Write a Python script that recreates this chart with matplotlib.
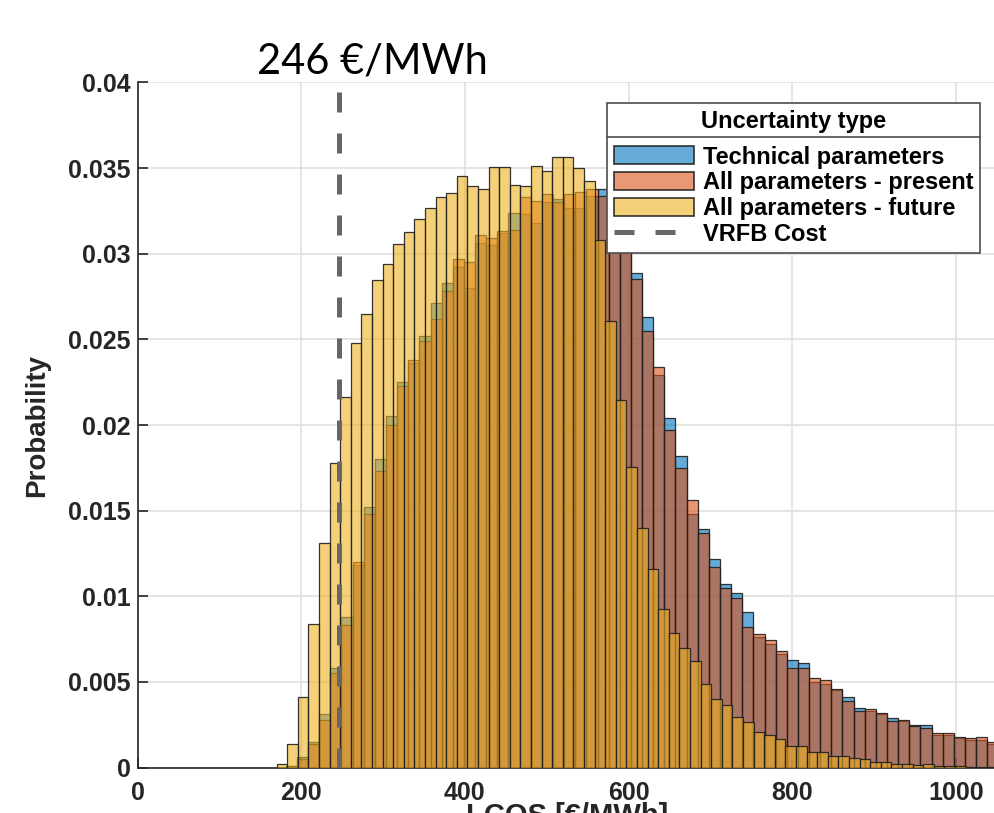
import numpy as np
import matplotlib
matplotlib.use('Agg')
import matplotlib.pyplot as plt
from matplotlib.patches import Patch
from matplotlib.lines import Line2D

# bins (LCOS, EUR/MWh)
future_start, future_width = 170.0, 12.95
present_start, present_width = 181.2, 13.6

# probability per bin
future_probs = [0.00023, 0.00135, 0.0041, 0.0084, 0.0131, 0.01776, 0.02166, 0.0248, 0.0265, 0.02846,
                0.02942, 0.03058, 0.03125, 0.03201, 0.03267, 0.03333, 0.03355, 0.03456, 0.03398, 0.03378,
                0.03509, 0.03507, 0.03404, 0.03394, 0.0351, 0.03484, 0.03566, 0.03566, 0.03499, 0.03425,
                0.03082, 0.0261, 0.02148, 0.01753, 0.0140, 0.01162, 0.00924, 0.00784, 0.0070, 0.00624,
                0.00485, 0.0040, 0.00367, 0.00292, 0.00265, 0.00206, 0.00189, 0.00164, 0.00123, 0.00125,
                0.00089, 0.00088, 0.0007, 0.00068, 0.00053, 0.0005, 0.0003, 0.0003, 0.0002, 0.0002,
                0.00017, 0.0002, 0.0001, 0.0001, 0.00008, 0.00005, 0.00005, 0.00003]

present_probs = [0.0001, 0.0005, 0.00135, 0.0028, 0.0055, 0.0083, 0.0120, 0.0148, 0.0173, 0.0200,
                 0.0223, 0.0238, 0.0249, 0.0262, 0.0278, 0.0297, 0.0295, 0.0311, 0.0309, 0.0313,
                 0.0314, 0.0333, 0.0331, 0.0335, 0.0330, 0.0335, 0.0336, 0.0338, 0.0334, 0.0325,
                 0.0306, 0.0285, 0.0255, 0.0234, 0.0197, 0.0175, 0.0156, 0.0137, 0.0117, 0.0105,
                 0.0099, 0.0082, 0.0078, 0.00745, 0.0068, 0.0058, 0.0058, 0.0052, 0.0051, 0.0046,
                 0.0039, 0.0033, 0.0034, 0.0032, 0.0027, 0.0028, 0.0024, 0.0023, 0.0020, 0.0020,
                 0.0018, 0.0017, 0.0018, 0.0015, 0.0014]

technical_probs = [0.0001, 0.0006, 0.0015, 0.0031, 0.0058, 0.0088, 0.0118, 0.0152, 0.0180, 0.0205,
                   0.0225, 0.0236, 0.0252, 0.0271, 0.0283, 0.0292, 0.0280, 0.0306, 0.0305, 0.0312,
                   0.0324, 0.0323, 0.0318, 0.0330, 0.0332, 0.0327, 0.0327, 0.0334, 0.0338, 0.0327,
                   0.0310, 0.0289, 0.0263, 0.0229, 0.0204, 0.0182, 0.0148, 0.0139, 0.0122, 0.0107,
                   0.0102, 0.0091, 0.0076, 0.0072, 0.0066, 0.0063, 0.0061, 0.0050, 0.0049, 0.0045,
                   0.0041, 0.0035, 0.0033, 0.0031, 0.0029, 0.0027, 0.0025, 0.0025, 0.0019, 0.0019,
                   0.0017, 0.0016, 0.0016, 0.0014, 0.0013]

vrfb_cost = 246
labels = ['Technical parameters', 'All parameters - present', 'All parameters - future', 'VRFB Cost']
xticks = [0, 200, 400, 600, 800, 1000]
yticks = [0, 0.005, 0.01, 0.015, 0.02, 0.025, 0.03, 0.035, 0.04]
yticklabels = ['0', '0.005', '0.01', '0.015', '0.02', '0.025', '0.03', '0.035', '0.04']

blue = (0.0, 0.447, 0.741)
orange = (0.85, 0.325, 0.098)
yellow = (0.929, 0.694, 0.125)
edge = (0.12, 0.12, 0.12, 0.9)
dark = (0.15, 0.15, 0.15)

plt.rcParams['font.family'] = ['Liberation Sans', 'DejaVu Sans']

fig = plt.figure(figsize=(9.94, 8.13), dpi=100)
W, H = 994, 813
ax = fig.add_axes([137.5 / W, (H - 767.5) / H, (997 - 137.5) / W, (767.5 - 82.5) / H])


def draw_hist(probs, start, width, color, z):
    n = len(probs)
    edges = start + width * np.arange(n + 1)
    ax.hist(edges[:-1], bins=edges, weights=probs, histtype='bar', rwidth=1.0,
            facecolor=color + (0.6,), edgecolor=edge, linewidth=0.9, zorder=z)


draw_hist(technical_probs, present_start, present_width, blue, 2)
draw_hist(present_probs, present_start, present_width, orange, 3)
draw_hist(future_probs, future_start, future_width, yellow, 4)

ax.plot([vrfb_cost, vrfb_cost], [0, 0.0396], color=(0.4, 0.4, 0.4), lw=3.6,
        dashes=(4, 4.2), zorder=5)

ax.set_xlim(0, 1050)
ax.set_ylim(0, 0.04)
ax.set_xticks(xticks)
ax.set_xticklabels([str(t) for t in xticks])
ax.set_yticks(yticks)
ax.set_yticklabels(yticklabels)
ax.grid(True, color=(0.88, 0.88, 0.88), lw=1.2)
ax.set_axisbelow(True)
for s in ['top', 'right']:
    ax.spines[s].set_visible(False)
for s in ['left', 'bottom']:
    ax.spines[s].set_color(dark)
    ax.spines[s].set_linewidth(1.2)
ax.tick_params(direction='in', length=7, width=1.2, color=dark, labelcolor=dark,
               labelsize=18)
ax.tick_params(axis='x', pad=9.5)
ax.tick_params(axis='y', pad=5)
for lab in ax.get_xticklabels() + ax.get_yticklabels():
    lab.set_fontweight('bold')

ax.set_ylabel('Probability', fontsize=20, fontweight='bold', color=dark, va='center')
ax.yaxis.set_label_coords((37 - 137.5) / 859.5, 0.5)
ax.set_xlabel('LCOS [€/MWh]', fontsize=21, fontweight='bold', color=dark, va='top')
ax.xaxis.set_label_coords(0.5, (767.5 - 802) / 685)

handles = [Patch(facecolor=blue + (0.6,), edgecolor=edge, lw=1.2),
           Patch(facecolor=orange + (0.6,), edgecolor=edge, lw=1.2),
           Patch(facecolor=yellow + (0.6,), edgecolor=edge, lw=1.2),
           Line2D([0], [0], color=(0.4, 0.4, 0.4), lw=3.6, dashes=(4, 4.2))]
leg = ax.legend(handles, labels, title='Uncertainty type', loc='upper left',
                bbox_to_anchor=(607 / W, 1 - 103 / H), bbox_transform=fig.transFigure,
                borderaxespad=0, fancybox=False, framealpha=1, edgecolor=(0.3, 0.3, 0.3),
                prop={'size': 17, 'weight': 'bold'},
                title_fontproperties={'size': 17, 'weight': 'bold'},
                handlelength=3.4, handleheight=0.8, handletextpad=0.35,
                labelspacing=0.12, borderpad=0.3)
leg.get_frame().set_linewidth(1.2)
leg._legend_box.sep = 9

fig.canvas.draw()
fb = leg.get_frame().get_window_extent()
tb = leg.get_title().get_window_extent()
y_sep = tb.y0 - 4
p0 = fig.transFigure.inverted().transform((fb.x0, y_sep))
p1 = fig.transFigure.inverted().transform((fb.x1, y_sep))
fig.add_artist(Line2D([p0[0], p1[0]], [p0[1], p1[1]], color=(0.3, 0.3, 0.3), lw=1.2))

fig.text(257 / W, 1 - 74 / H, '246 €/MWh', fontsize=30, family=['Lato', 'DejaVu Sans'],
         ha='left', va='baseline', color='black')

fig.savefig('out.png', dpi=100)
